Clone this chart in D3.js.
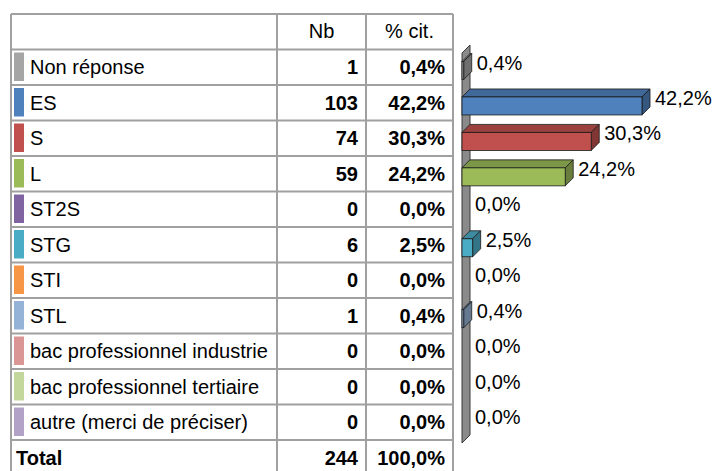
<!DOCTYPE html>
<html>
<head>
<meta charset="utf-8">
<script src="https://cdn.jsdelivr.net/npm/d3@7"></script>
<style>
  body { margin: 0; background: #fff; }
  svg { display: block; font-family: Arial, "Liberation Sans", sans-serif; }
</style>
</head>
<body>
<svg id="chart" width="712" height="471"></svg>
<script>
// data
const categories = ["Non réponse", "ES", "S", "L", "ST2S", "STG", "STI", "STL",
    "bac professionnel industrie", "bac professionnel tertiaire", "autre (merci de préciser)"];
const counts = [1, 103, 74, 59, 0, 6, 0, 1, 0, 0, 0];
const percents = [0.4, 42.2, 30.3, 24.2, 0.0, 2.5, 0.0, 0.4, 0.0, 0.0, 0.0];
const colors = ["#a5a5a5", "#4f81bd", "#c0504d", "#9bbb59", "#8064a2", "#4bacc6",
    "#f79646", "#95b3d7", "#d99694", "#c3d69b", "#b3a2c7"];
const headers = ["Nb", "% cit."];
const totalLabel = "Total";
const totalCount = 244;
const totalPercent = 100.0;

const fr = d3.formatLocale({decimal: ",", thousands: " ", grouping: [3], currency: ["", "€"]});
const fmtPct = v => fr.format(".1f")(v) + "%";

const svg = d3.select("#chart");

// ---- table ----
const colX = [11, 277, 366, 453];   // column borders
const headTop = 14, rowStep = 35.5;
const rowKeys = categories.concat([totalLabel]);
const rowY = d3.scaleBand()
    .domain(rowKeys)
    .range([headTop + rowStep, headTop + rowStep * (rowKeys.length + 1)]);

const table = svg.append("g");
const lineColor = "#a0a0a0";

// header text
table.selectAll("text.head")
    .data(headers)
    .join("text")
    .attr("class", "head")
    .attr("x", (d, i) => (colX[i + 1] + colX[i + 2]) / 2)
    .attr("y", headTop + rowStep / 2 + 6)
    .attr("text-anchor", "middle")
    .attr("font-size", 20)
    .text(d => d);

// rows
const rows = table.selectAll("g.row")
    .data(rowKeys)
    .join("g")
    .attr("class", "row")
    .attr("transform", d => "translate(0," + rowY(d) + ")");

rows.filter((d, i) => i < categories.length)
    .append("rect")
    .attr("x", colX[0] + 3)
    .attr("y", 3)
    .attr("width", 10)
    .attr("height", rowY.bandwidth() - 7)
    .attr("fill", (d, i) => colors[i]);

rows.append("text")
    .attr("x", (d, i) => i < categories.length ? 30 : 16)
    .attr("y", rowY.bandwidth() / 2 + 7)
    .attr("font-size", 20)
    .attr("font-weight", (d, i) => i < categories.length ? "normal" : "bold")
    .text(d => d);

rows.append("text")
    .attr("x", colX[2] - 8)
    .attr("y", rowY.bandwidth() / 2 + 7)
    .attr("text-anchor", "end")
    .attr("font-size", 20)
    .attr("font-weight", "bold")
    .text((d, i) => i < categories.length ? counts[i] : totalCount);

rows.append("text")
    .attr("x", colX[3] - 8)
    .attr("y", rowY.bandwidth() / 2 + 7)
    .attr("text-anchor", "end")
    .attr("font-size", 20)
    .attr("font-weight", "bold")
    .text((d, i) => fmtPct(i < categories.length ? percents[i] : totalPercent));

// grid lines
const bottom = rowY.range()[1];
const hLines = [headTop].concat(rowKeys.map(d => rowY(d)));
table.selectAll("line.h")
    .data(hLines)
    .join("line")
    .attr("x1", colX[0]).attr("x2", colX[3])
    .attr("y1", d => d).attr("y2", d => d)
    .attr("stroke", lineColor)
    .attr("stroke-width", 2);
table.selectAll("line.v")
    .data(colX)
    .join("line")
    .attr("x1", d => d).attr("x2", d => d)
    .attr("y1", headTop).attr("y2", bottom)
    .attr("stroke", lineColor)
    .attr("stroke-width", 2);

// ---- 3D bar chart ----
const depth = 8;
const x = d3.scaleLinear().domain([0, d3.max(percents)]).range([462, 642]);
const y = d3.scaleBand().domain(categories).range([53, 443]);
const barTop = 8.5, barH = 18;

const chart = svg.append("g");

// side wall
const wx = x(0), wy0 = y.range()[0], wy1 = y.range()[1];
chart.append("path")
    .attr("d", d3.line()([[wx, wy0], [wx + depth, wy0 - depth], [wx + depth, wy1 - depth], [wx, wy1]]) + "Z")
    .attr("fill", "#8a8a8a")
    .attr("stroke", "#3a3a3a")
    .attr("stroke-width", 1);

const barData = categories.map((c, i) => ({c: c, v: percents[i], color: colors[i]}));

const bars = chart.selectAll("g.bar")
    .data(barData.filter(d => d.v > 0))
    .join("g")
    .attr("class", "bar");

bars.append("path")   // top face
    .attr("d", d => {
        const x0 = x(0), x1 = x(d.v), yy = y(d.c) + barTop;
        return d3.line()([[x0, yy], [x0 + depth, yy - depth], [x1 + depth, yy - depth], [x1, yy]]) + "Z";
    })
    .attr("fill", d => d3.color(d.color).darker(0.6))
    .attr("stroke", "#1a1a1a")
    .attr("stroke-width", 0.8);

bars.append("path")   // right face
    .attr("d", d => {
        const x1 = x(d.v), yy = y(d.c) + barTop;
        return d3.line()([[x1, yy], [x1 + depth, yy - depth], [x1 + depth, yy + barH - depth], [x1, yy + barH]]) + "Z";
    })
    .attr("fill", d => d3.color(d.color).darker(1.1))
    .attr("stroke", "#1a1a1a")
    .attr("stroke-width", 0.8);

bars.append("rect")   // front face
    .attr("x", x(0))
    .attr("y", d => y(d.c) + barTop)
    .attr("width", d => x(d.v) - x(0))
    .attr("height", barH)
    .attr("fill", d => d.color)
    .attr("stroke", "#1a1a1a")
    .attr("stroke-width", 0.8);

chart.selectAll("text.lbl")
    .data(barData)
    .join("text")
    .attr("class", "lbl")
    .attr("x", d => x(d.v) + depth + 5)
    .attr("y", d => y(d.c) + barTop + 8)
    .attr("font-size", 20)
    .text(d => fmtPct(d.v));
</script>
</body>
</html>
